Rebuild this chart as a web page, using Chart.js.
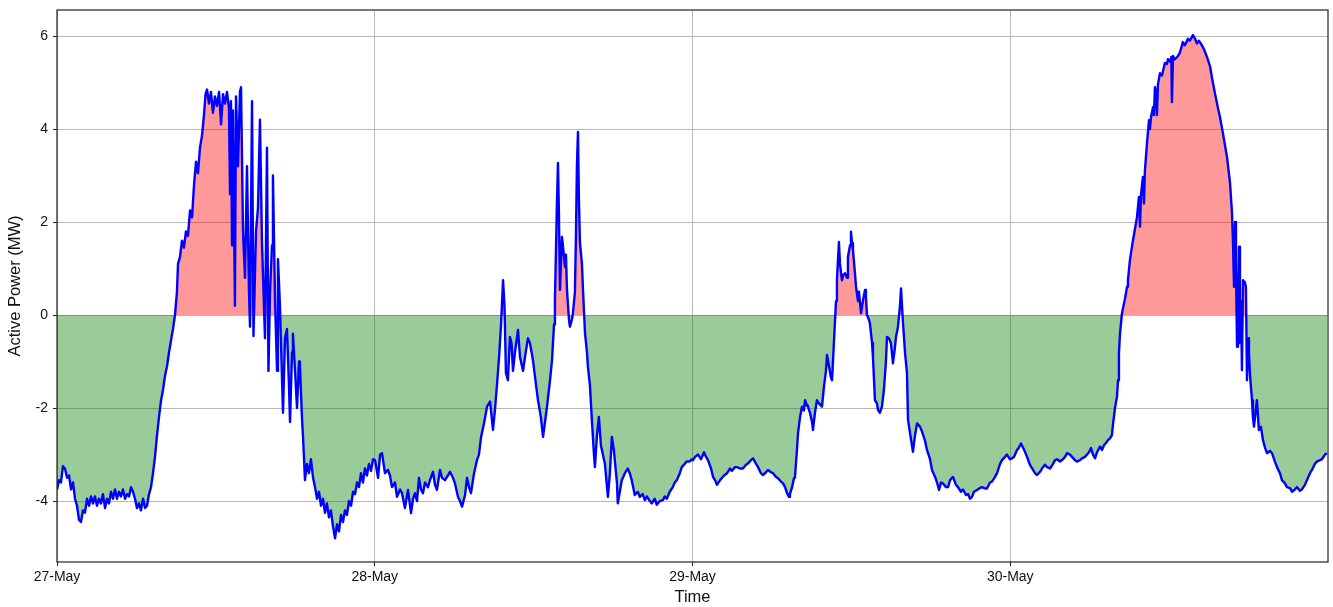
<!DOCTYPE html>
<html>
<head>
<meta charset="utf-8">
<script src="https://cdn.jsdelivr.net/npm/chart.js@4.4.1/dist/chart.umd.min.js"></script>
<style>
  html, body { margin: 0; padding: 0; background: #ffffff; }
  #wrap { width: 1333px; height: 607px; position: relative; }
</style>
</head>
<body>
<div id="wrap"><canvas id="chart"></canvas></div>
<script>
// Active power readings, [hour of day, MW], one array per day
const may27 = [
  [0.00,-3.75],[0.15,-3.55],[0.30,-3.6],[0.45,-3.25],[0.60,-3.3],[0.76,-3.5],[0.91,-3.45],[1.06,-3.75],
  [1.21,-3.6],[1.36,-3.95],[1.51,-4.1],[1.66,-4.4],[1.81,-4.45],[1.96,-4.2],[2.11,-4.25],[2.27,-3.95],
  [2.42,-4.1],[2.57,-3.9],[2.72,-4.05],[2.87,-3.9],[3.02,-4.1],[3.17,-3.95],[3.32,-4.05],[3.47,-3.85],
  [3.63,-4.15],[3.78,-3.95],[3.93,-4.05],[4.08,-3.8],[4.23,-3.95],[4.38,-3.75],[4.53,-3.95],[4.68,-3.8],
  [4.83,-3.9],[4.98,-3.75],[5.14,-3.95],[5.29,-3.85],[5.44,-3.9],[5.59,-3.7],[5.74,-3.8],[5.89,-3.95],
  [6.04,-4.15],[6.19,-4.05],[6.34,-4.2],[6.50,-3.95],[6.65,-4.15],[6.80,-4.1],[6.95,-3.85],[7.10,-3.7],
  [7.25,-3.4],[7.40,-3.05],[7.55,-2.6],[7.70,-2.2],[7.85,-1.85],[8.01,-1.6],[8.16,-1.3],[8.31,-1.1],
  [8.46,-0.8],[8.61,-0.55],[8.76,-0.3],[8.91,0.0],[9.06,0.5],[9.14,1.1],[9.29,1.25],[9.44,1.6],
  [9.59,1.45],[9.74,1.8],[9.89,1.7],[10.05,2.25],[10.20,2.1],[10.35,2.8],[10.50,3.3],[10.65,3.05],
  [10.80,3.6],[10.95,3.85],[11.10,4.3],[11.22,4.75],[11.33,4.85],[11.48,4.55],[11.63,4.8],[11.78,4.35],
  [11.93,4.7],[12.08,4.5],[12.24,4.8],[12.39,4.1],[12.54,4.75],[12.69,4.55],[12.84,4.8],[12.99,4.45],
  [13.07,2.6],[13.14,4.6],[13.22,1.5],[13.29,4.4],[13.44,0.2],[13.52,4.7],[13.67,3.2],[13.82,4.8],
  [13.90,4.9],[14.05,1.8],[14.20,0.8],[14.35,3.2],[14.50,0.5],[14.58,-0.25],[14.73,4.6],[14.84,-0.45],
  [15.03,1.8],[15.18,2.3],[15.33,4.2],[15.48,1.6],[15.63,0.2],[15.71,-0.5],[15.86,3.6],[15.97,-1.2],
  [16.09,0.5],[16.24,1.5],[16.31,3.0],[16.47,0.3],[16.62,-1.2],[16.69,1.2],[16.84,0.2],[17.07,-2.1],
  [17.22,-0.5],[17.37,-0.3],[17.52,-1.5],[17.60,-2.3],[17.75,-0.8],[17.82,-0.4],[17.98,-1.2],[18.13,-2.0],
  [18.28,-1.0],[18.35,-1.1],[18.50,-2.2],[18.58,-2.6],[18.73,-3.55],[18.88,-3.2],[19.03,-3.4],[19.18,-3.1],
  [19.34,-3.5],[19.49,-3.7],[19.64,-3.95],[19.79,-3.8],[19.94,-4.1],[20.09,-3.95],[20.24,-4.25],[20.39,-4.05],
  [20.54,-4.35],[20.69,-4.2],[20.85,-4.55],[21.00,-4.8],[21.15,-4.5],[21.30,-4.65],[21.45,-4.3],[21.60,-4.45],
  [21.75,-4.2],[21.90,-4.3],[22.05,-4.0],[22.21,-4.1],[22.36,-3.8],[22.51,-3.85],[22.66,-3.6],[22.81,-3.7],
  [22.96,-3.4],[23.11,-3.6],[23.26,-3.3],[23.41,-3.45],[23.56,-3.2],[23.72,-3.35],[23.87,-3.1]
];
const may28 = [
  [0.02,-3.12],[0.25,-3.5],[0.40,-3.0],[0.55,-2.97],[0.77,-3.4],[1.00,-3.33],[1.15,-3.45],[1.30,-3.7],
  [1.53,-3.6],[1.68,-3.91],[1.91,-3.75],[2.06,-3.83],[2.28,-4.15],[2.51,-3.76],[2.74,-4.26],[2.89,-3.95],
  [3.04,-3.83],[3.19,-4.0],[3.34,-3.5],[3.49,-3.75],[3.64,-3.83],[3.80,-3.6],[4.02,-3.7],[4.17,-3.55],
  [4.40,-3.37],[4.55,-3.65],[4.70,-3.76],[4.93,-3.33],[5.08,-3.5],[5.30,-3.55],[5.53,-3.45],[5.68,-3.37],
  [5.91,-3.5],[6.06,-3.62],[6.29,-3.91],[6.44,-4.0],[6.59,-4.12],[6.82,-3.87],[6.97,-3.5],[7.12,-3.7],
  [7.27,-3.83],[7.50,-3.4],[7.72,-3.12],[7.87,-3.0],[8.03,-2.62],[8.25,-2.33],[8.48,-1.97],[8.71,-1.86],
  [8.93,-2.47],[9.08,-2.04],[9.24,-1.47],[9.39,-0.9],[9.54,-0.2],[9.69,0.75],[9.80,0.2],[9.91,-1.25],
  [10.06,-1.4],[10.21,-0.47],[10.33,-0.6],[10.44,-1.2],[10.59,-0.8],[10.82,-0.32],[10.97,-0.9],[11.20,-1.2],
  [11.35,-0.9],[11.57,-0.5],[11.72,-0.6],[11.95,-0.97],[12.18,-1.5],[12.33,-1.83],[12.55,-2.2],[12.71,-2.62],
  [12.86,-2.3],[13.01,-1.97],[13.24,-1.4],[13.39,-0.97],[13.54,-0.2],[13.61,0.32],[13.76,2.4],[13.84,3.27],
  [13.91,2.2],[13.99,0.54],[14.14,1.68],[14.21,1.5],[14.37,1.03],[14.44,1.3],[14.52,0.54],[14.67,-0.1],
  [14.74,-0.25],[14.89,-0.1],[14.97,0.04],[15.12,0.5],[15.20,1.76],[15.27,3.2],[15.35,3.94],[15.42,2.5],
  [15.50,1.55],[15.65,1.1],[15.73,0.54],[15.88,-0.39],[16.03,-0.8],[16.10,-1.11],[16.25,-1.5],[16.40,-2.26],
  [16.56,-3.0],[16.63,-3.27],[16.78,-2.6],[16.93,-2.19],[17.08,-2.8],[17.23,-3.0],[17.38,-3.19],[17.61,-3.91],
  [17.76,-3.4],[17.91,-2.62],[18.06,-2.9],[18.13,-3.12],[18.29,-3.6],[18.36,-4.05],[18.51,-3.8],[18.66,-3.55],
  [18.89,-3.4],[19.11,-3.3],[19.26,-3.4],[19.41,-3.55],[19.64,-3.87],[19.87,-3.8],[20.02,-3.91],[20.24,-3.85],
  [20.40,-3.98],[20.55,-3.9],[20.78,-4.0],[20.93,-4.05],[21.15,-3.95],[21.30,-4.08],[21.53,-4.0],[21.76,-3.98],
  [21.91,-3.9],[22.06,-3.95],[22.28,-3.8],[22.51,-3.7],[22.66,-3.6],[22.81,-3.55],[23.04,-3.4],[23.19,-3.27],
  [23.41,-3.2],[23.56,-3.15],[23.79,-3.15],[23.94,-3.1]
];
const may29 = [
  [0.04,-3.12],[0.19,-3.05],[0.42,-3.0],[0.64,-3.1],[0.87,-2.95],[1.02,-3.05],[1.17,-3.12],[1.40,-3.3],
  [1.55,-3.48],[1.70,-3.55],[1.85,-3.65],[2.08,-3.55],[2.23,-3.5],[2.38,-3.45],[2.61,-3.4],[2.83,-3.3],
  [2.98,-3.35],[3.21,-3.27],[3.36,-3.27],[3.59,-3.3],[3.81,-3.3],[4.04,-3.22],[4.19,-3.19],[4.42,-3.12],
  [4.57,-3.08],[4.80,-3.2],[4.95,-3.27],[5.17,-3.4],[5.32,-3.44],[5.55,-3.38],[5.70,-3.33],[5.93,-3.38],
  [6.08,-3.4],[6.31,-3.48],[6.46,-3.51],[6.68,-3.58],[6.84,-3.62],[6.99,-3.7],[7.14,-3.83],[7.29,-3.91],
  [7.36,-3.85],[7.52,-3.7],[7.67,-3.5],[7.74,-3.48],[7.89,-2.9],[7.97,-2.54],[8.12,-2.2],[8.27,-1.97],
  [8.42,-2.05],[8.50,-1.83],[8.65,-1.95],[8.72,-1.97],[8.87,-2.1],[9.03,-2.3],[9.10,-2.47],[9.25,-2.1],
  [9.40,-1.83],[9.55,-1.9],[9.78,-1.97],[9.93,-1.54],[10.08,-1.2],[10.16,-0.86],[10.31,-1.1],[10.46,-1.35],
  [10.54,-1.4],[10.69,-0.54],[10.84,0.3],[10.91,0.75],[11.06,1.57],[11.14,1.1],[11.29,0.75],[11.37,0.85],
  [11.52,0.9],[11.67,0.8],[11.74,1.25],[11.90,1.5],[11.97,1.79],[12.05,1.55],[12.12,1.4],[12.27,0.9],
  [12.35,0.61],[12.50,0.3],[12.57,0.5],[12.73,0.04],[12.88,0.32],[13.03,0.54],[13.10,0.4],[13.18,0.0],
  [13.33,-0.1],[13.40,-0.18],[13.56,-0.6],[13.63,-0.9],[13.78,-1.83],[13.93,-1.9],[14.01,-2.04],[14.16,-2.1],
  [14.31,-1.97],[14.46,-1.6],[14.61,-1.0],[14.69,-0.47],[14.84,-0.5],[14.99,-0.61],[15.14,-1.04],[15.29,-0.7],
  [15.37,-0.47],[15.52,-0.25],[15.67,0.2],[15.75,0.57],[15.90,-0.18],[16.05,-0.8],[16.20,-1.25],[16.28,-2.26],
  [16.43,-2.54],[16.65,-2.94],[16.80,-2.6],[16.96,-2.33],[17.18,-2.4],[17.33,-2.5],[17.56,-2.7],[17.71,-2.9],
  [17.94,-3.1],[18.09,-3.33],[18.32,-3.48],[18.47,-3.6],[18.62,-3.76],[18.77,-3.6],[18.92,-3.62],[19.15,-3.7],
  [19.30,-3.7],[19.45,-3.55],[19.68,-3.48],[19.90,-3.65],[20.05,-3.7],[20.28,-3.8],[20.43,-3.75],[20.66,-3.87],
  [20.81,-3.85],[20.96,-3.95],[21.11,-3.91],[21.26,-3.8],[21.49,-3.76],[21.71,-3.72],[21.86,-3.7],[22.09,-3.73],
  [22.24,-3.73],[22.47,-3.6],[22.62,-3.58],[22.85,-3.48],[23.00,-3.4],[23.23,-3.2],[23.38,-3.12],[23.60,-3.05],
  [23.75,-3.0],[23.98,-3.1]
];
const may30 = [
  [0.13,-3.08],[0.28,-3.05],[0.51,-2.9],[0.66,-2.85],[0.81,-2.76],[0.96,-2.85],[1.11,-2.94],[1.27,-3.05],
  [1.49,-3.22],[1.72,-3.33],[1.87,-3.4],[2.02,-3.44],[2.25,-3.37],[2.40,-3.3],[2.62,-3.22],[2.78,-3.27],
  [3.00,-3.3],[3.23,-3.2],[3.38,-3.12],[3.53,-3.1],[3.76,-3.15],[3.98,-3.1],[4.14,-3.05],[4.29,-2.97],
  [4.51,-3.0],[4.66,-3.05],[4.89,-3.12],[5.04,-3.15],[5.27,-3.12],[5.42,-3.08],[5.64,-3.05],[5.80,-3.0],
  [5.95,-2.95],[6.10,-2.86],[6.25,-3.0],[6.40,-3.08],[6.55,-2.95],[6.78,-2.83],[6.93,-2.9],[7.08,-2.8],
  [7.23,-2.75],[7.38,-2.69],[7.53,-2.65],[7.68,-2.58],[7.76,-2.35],[7.91,-2.0],[8.06,-1.76],[8.14,-1.4],
  [8.21,-0.82],[8.29,-0.4],[8.44,0.04],[8.59,0.25],[8.67,0.35],[8.82,0.61],[8.89,0.75],[9.04,1.18],
  [9.27,1.61],[9.42,1.85],[9.57,2.1],[9.72,2.54],[9.80,1.9],[9.88,2.6],[10.02,2.97],[10.10,2.4],
  [10.17,3.1],[10.33,3.7],[10.48,4.19],[10.55,4.0],[10.63,4.25],[10.78,4.47],[10.85,4.3],[10.93,4.9],
  [11.00,4.75],[11.08,4.3],[11.15,4.95],[11.31,5.2],[11.46,5.15],[11.68,5.42],[11.83,5.4],[11.91,5.5],
  [12.06,5.45],[12.17,5.55],[12.21,4.58],[12.29,5.57],[12.44,5.5],[12.67,5.57],[12.82,5.65],[13.04,5.87],
  [13.19,5.8],[13.42,5.94],[13.57,5.9],[13.80,6.02],[13.95,5.95],[14.10,5.84],[14.25,5.9],[14.48,5.8],
  [14.63,5.72],[14.86,5.55],[15.09,5.35],[15.24,5.1],[15.46,4.77],[15.69,4.45],[15.84,4.26],[16.07,3.9],
  [16.37,3.4],[16.60,2.84],[16.75,2.19],[16.83,1.5],[16.90,0.61],[16.98,2.0],[17.05,1.0],[17.13,-0.68],
  [17.20,0.2],[17.28,1.47],[17.35,-0.6],[17.43,0.3],[17.50,-1.18],[17.58,0.75],[17.73,0.7],[17.80,0.6],
  [17.88,-1.4],[17.96,-0.5],[18.03,-0.8],[18.11,-1.3],[18.26,-1.83],[18.33,-2.2],[18.41,-2.4],[18.56,-2.0],
  [18.63,-1.83],[18.78,-2.47],[18.93,-2.4],[19.09,-2.69],[19.24,-2.85],[19.39,-2.97],[19.62,-2.92],[19.77,-2.97],
  [19.99,-3.15],[20.15,-3.27],[20.37,-3.4],[20.52,-3.55],[20.75,-3.62],[20.90,-3.7],[21.13,-3.72],[21.28,-3.8],
  [21.50,-3.75],[21.66,-3.7],[21.88,-3.78],[22.03,-3.75],[22.26,-3.65],[22.41,-3.55],[22.64,-3.4],[22.79,-3.33],
  [23.01,-3.2],[23.16,-3.15],[23.39,-3.12],[23.54,-3.1],[23.77,-3.0],[23.92,-2.97]
];

const days = [may27, may28, may29, may30];
const dayLabels = ['27-May', '28-May', '29-May', '30-May'];
const xTicks = [0, 24, 48, 72];
const yTicks = [-4, -2, 0, 2, 4, 6];

const points = days.flatMap((day, d) => day.map(([h, mw]) => ({ x: d * 24 + h, y: mw })));

const FONT = "Arial, 'Liberation Sans', Helvetica, sans-serif";

// Dark frame around the plot area
const frame = {
  id: 'frame',
  afterDatasetsDraw(chart) {
    const { ctx, chartArea: a } = chart;
    ctx.save();
    ctx.strokeStyle = '#222';
    ctx.lineWidth = 1.2;
    ctx.strokeRect(a.left, a.top, a.right - a.left, a.bottom - a.top);
    ctx.restore();
  }
};

new Chart(document.getElementById('chart'), {
  type: 'line',
  data: {
    datasets: [{
      label: 'Active Power',
      data: points,
      borderColor: '#0000ff',
      borderWidth: 2.4,
      borderJoinStyle: 'round',
      pointRadius: 0,
      tension: 0,
      fill: {
        target: { value: 0 },
        above: 'rgba(255, 0, 0, 0.4)',
        below: 'rgba(0, 128, 0, 0.4)'
      }
    }]
  },
  options: {
    responsive: true,
    maintainAspectRatio: false,
    animation: false,
    layout: { padding: { left: 0, top: 10, right: 5, bottom: 0 } },
    plugins: {
      legend: { display: false },
      tooltip: { enabled: false }
    },
    scales: {
      x: {
        type: 'linear',
        min: 0,
        max: 96,
        afterBuildTicks: s => { s.ticks = xTicks.map(v => ({ value: v })); },
        afterFit: s => { s.height = 45; s.paddingLeft = 0; s.paddingRight = 0; },
        ticks: {
          autoSkip: false,
          maxRotation: 0,
          padding: 3,
          color: '#111',
          font: { family: FONT, size: 14 },
          callback: (v, i) => dayLabels[i]
        },
        grid: { color: '#b8b8b8', lineWidth: 1, tickLength: 4, tickColor: '#222', tickWidth: 1 },
        border: { display: false },
        title: {
          display: true,
          text: 'Time',
          color: '#111',
          font: { family: FONT, size: 16.5 },
          padding: { top: 0, bottom: 0 }
        }
      },
      y: {
        min: -5.31,
        max: 6.56,
        afterBuildTicks: s => { s.ticks = yTicks.map(v => ({ value: v })); },
        afterFit: s => { s.width = 57; s.paddingTop = 0; s.paddingBottom = 0; },
        ticks: {
          padding: 5,
          color: '#111',
          font: { family: FONT, size: 14 },
          callback: v => String(v)
        },
        grid: { color: '#b8b8b8', lineWidth: 1, tickLength: 4, tickColor: '#222', tickWidth: 1 },
        border: { display: false },
        title: {
          display: true,
          text: 'Active Power (MW)',
          color: '#111',
          font: { family: FONT, size: 16.5 },
          padding: { top: 6, bottom: 0 }
        }
      }
    }
  },
  plugins: [frame]
});
</script>
</body>
</html>
